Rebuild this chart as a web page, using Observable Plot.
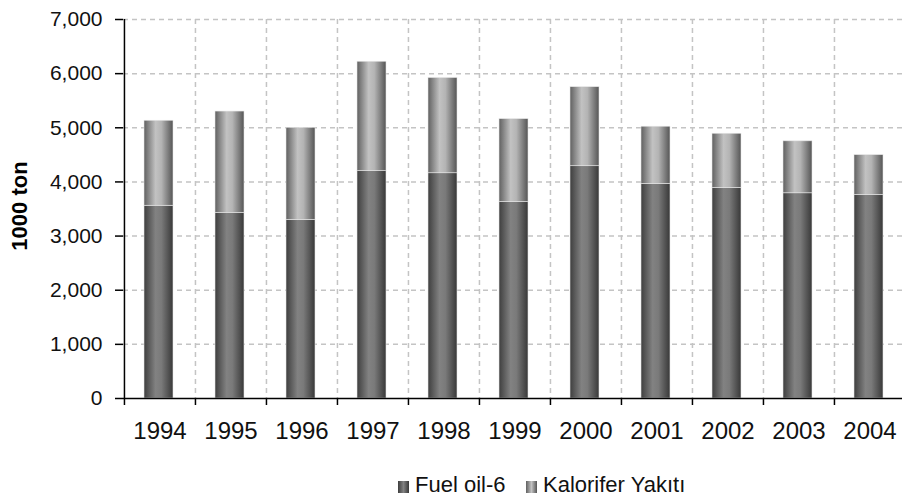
<!DOCTYPE html>
<html>
<head>
<meta charset="utf-8">
<script src="https://cdn.jsdelivr.net/npm/d3@7"></script>
<script src="https://cdn.jsdelivr.net/npm/@observablehq/plot@0.6"></script>
<style>
  html, body { margin: 0; padding: 0; background: #fff; overflow: hidden; }
  #wrap { width: 902px; height: 498px; position: relative; font-family: "Liberation Sans", Arial, sans-serif; }
  .item { position: absolute; top: 472px; font-size: 22px; color: #111; line-height: 26px; white-space: nowrap; }
  .sw { display: inline-block; width: 11px; height: 12px; vertical-align: -1px; margin-right: 6px; }
</style>
</head>
<body>
<svg width="0" height="0" style="position:absolute">
  <defs>
    <linearGradient id="gFuel" x1="0" x2="1" y1="0" y2="0">
      <stop offset="0" stop-color="#3e3e3e"/>
      <stop offset="0.4" stop-color="#828282"/>
      <stop offset="0.6" stop-color="#7a7a7a"/>
      <stop offset="1" stop-color="#383838"/>
    </linearGradient>
    <linearGradient id="gKal" x1="0" x2="1" y1="0" y2="0">
      <stop offset="0" stop-color="#606060"/>
      <stop offset="0.4" stop-color="#c2c2c2"/>
      <stop offset="0.6" stop-color="#b4b4b4"/>
      <stop offset="1" stop-color="#555555"/>
    </linearGradient>
  </defs>
</svg>
<div id="wrap">
  <div id="chart"></div>
  <span class="item" id="leg0" style="left:398px"><span class="sw" style="background:linear-gradient(to right,#3e3e3e,#828282,#383838)"></span><span class="lt"></span></span>
  <span class="item" id="leg1" style="left:526px"><span class="sw" style="background:linear-gradient(to right,#606060,#c2c2c2,#555555)"></span><span class="lt"></span></span>
</div>
<script>
const years = ["1994","1995","1996","1997","1998","1999","2000","2001","2002","2003","2004"];
const fuelOil6 = [3560, 3430, 3300, 4200, 4160, 3630, 4290, 3965, 3890, 3790, 3760];
const kalorifer = [1570, 1870, 1700, 2020, 1760, 1530, 1460, 1055, 1000, 960, 735];
const yTicks = [0, 1000, 2000, 3000, 4000, 5000, 6000, 7000];
const seriesNames = ["Fuel oil-6", "Kalorifer Yakıtı"];
const yLabel = "1000 ton";

document.querySelector("#leg0 .lt").textContent = seriesNames[0];
document.querySelector("#leg1 .lt").textContent = seriesNames[1];

const rows = years.map((y, i) => ({year: y, fuel: fuelOil6[i], kal: kalorifer[i], total: fuelOil6[i] + kalorifer[i]}));

const W = 902, X0 = 123, X1 = 905;
const bw = (X1 - X0) / years.length;
const fmt = d3.format(",");
const gridStyle = {stroke: "#c4c4c4", strokeOpacity: 1, strokeWidth: 1.5, strokeDasharray: "5,4"};

const chart = Plot.plot({
  width: W,
  height: 460,
  marginLeft: X0,
  marginRight: 0,
  marginTop: 19,
  marginBottom: 62,
  style: {fontFamily: "'Liberation Sans', Arial, sans-serif", color: "#111", background: "#fff", overflow: "hidden"},
  x: {type: "band", domain: years, padding: 0, align: 0.5, range: [X0, X1]},
  y: {domain: [0, 7000]},
  marks: [
    Plot.gridY({ticks: yTicks.slice(1), ...gridStyle}),
    Plot.gridX({ticks: years.slice(1), dx: -bw / 2, ...gridStyle}),
    Plot.barY(rows, {x: "year", y1: 0, y2: "fuel", fill: "url(#gFuel)", insetLeft: 20, insetRight: 22, stroke: "#e6e6e6", strokeWidth: 0.6}),
    Plot.barY(rows, {x: "year", y1: "fuel", y2: "total", fill: "url(#gKal)", insetLeft: 20, insetRight: 22, stroke: "#e6e6e6", strokeWidth: 0.6}),
    Plot.ruleY([0], {stroke: "#000", strokeWidth: 1.5}),
    Plot.ruleX([years[0]], {dx: -bw / 2, stroke: "#000", strokeWidth: 1.5}),
    Plot.axisY({ticks: yTicks, tickSize: 8, tickPadding: 13, tickFormat: fmt, fontSize: 21, label: null, stroke: "#000", strokeWidth: 1.5}),
    Plot.axisX({ticks: years, tickSize: 7, dx: -bw / 2, tickFormat: () => "", label: null, stroke: "#000", strokeWidth: 1.5}),
    Plot.axisX({ticks: years, tickSize: 0, tickPadding: 23, fontSize: 24, label: null, ariaLabel: "year-labels"}),
    Plot.text([yLabel], {frameAnchor: "left", dx: -104, dy: -3, rotate: -90, fontSize: 22, fontWeight: "bold", fill: "#000", textAnchor: "middle"})
  ]
});
document.getElementById("chart").appendChild(chart);
// narrow the year labels horizontally to match the condensed look of the reference
d3.select(chart).selectAll('g[aria-label="year-labels"] text, g[aria-label="x-axis tick label"] text').each(function() {
  const t = this.getAttribute("transform") || "";
  this.setAttribute("transform", t + " scale(0.86,1)");
});
</script>
</body>
</html>
